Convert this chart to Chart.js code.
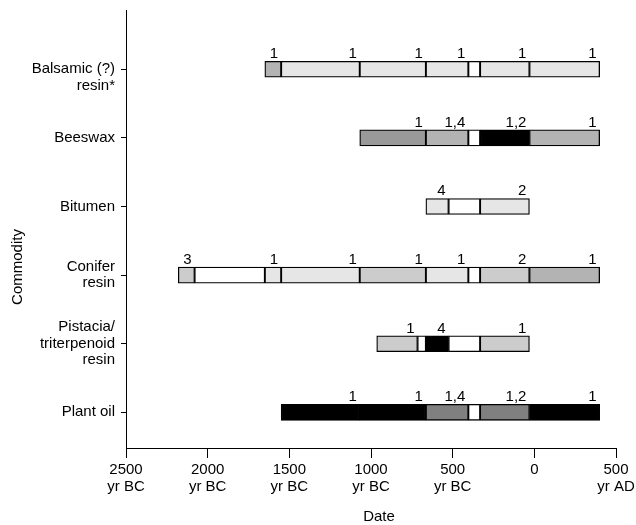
<!DOCTYPE html>
<html><head><meta charset="utf-8">
<script src="https://cdn.jsdelivr.net/npm/chart.js@4"></script>
<style>html,body{margin:0;padding:0;background:#fff;} #wrap{width:636px;height:525px;}</style>
</head><body><div id="wrap"><canvas id="c" width="636" height="525"></canvas></div>
<script>
// ---- data ----
const categoryLabels = [["", "Balsamic (?)", "resin*"], ["Beeswax"], ["Bitumen"], ["Conifer", "resin"], ["Pistacia/", "triterpenoid", "resin"], ["Plant oil"]];
const xTickValues = [-2500, -2000, -1500, -1000, -500, 0, 500];
const xTickLabels = [["2500", "yr BC"], ["2000", "yr BC"], ["1500", "yr BC"], ["1000", "yr BC"], ["500", "yr BC"], ["0"], ["500", "yr AD"]];
const xTitle = "Date";
const yTitle = "Commodity";

// shade levels: 0 none (white) ... 6 black
const balsamicBounds = [-1650, -1550, -1069, -664, -404, -332, -30, 400];
const balsamicShades = [3, 1, 1, 1, 0, 1, 1];
const balsamicNotes = ["1", "1", "1", "1", "", "1", "1"];

const beeswaxBounds = [-1069, -664, -404, -332, -30, 400];
const beeswaxShades = [4, 3, 0, 6, 3];
const beeswaxNotes = ["1", "1,4", "", "1,2", "1"];

const bitumenBounds = [-664, -525, -332, -30];
const bitumenShades = [1, 0, 1];
const bitumenNotes = ["4", "", "2"];

const coniferBounds = [-2180, -2080, -1650, -1550, -1069, -664, -404, -332, -30, 400];
const coniferShades = [2, 0, 1, 1, 2, 1, 0, 2, 3];
const coniferNotes = ["3", "", "1", "1", "1", "1", "", "2", "1"];

const pistaciaBounds = [-965, -715, -664, -525, -332, -30];
const pistaciaShades = [2, 0, 6, 0, 2];
const pistaciaNotes = ["1", "", "4", "", "1"];

const plantOilBounds = [-1550, -1069, -664, -404, -332, -30, 400];
const plantOilShades = [6, 6, 5, 0, 5, 6];
const plantOilNotes = ["1", "1", "1,4", "", "1,2", "1"];

// ---- build ----
const FONT = "'Liberation Sans', Arial, sans-serif";
const palette = ["#ffffff", "#e6e6e6", "#cccccc", "#b3b3b3", "#999999", "#808080", "#000000"];
const rows = [
  [balsamicBounds, balsamicShades, balsamicNotes],
  [beeswaxBounds, beeswaxShades, beeswaxNotes],
  [bitumenBounds, bitumenShades, bitumenNotes],
  [coniferBounds, coniferShades, coniferNotes],
  [pistaciaBounds, pistaciaShades, pistaciaNotes],
  [plantOilBounds, plantOilShades, plantOilNotes]
];
const maxSegs = Math.max(...rows.map(r => r[1].length));
const datasets = [];
for (let k = 0; k < maxSegs; k++) {
  const data = [];
  rows.forEach((r, i) => {
    if (k < r[1].length) data.push({ x: [r[0][k], r[0][k + 1]], y: i, shade: r[1][k], note: r[2][k] });
  });
  datasets.push({
    data,
    backgroundColor: ctx => ctx.raw ? palette[ctx.raw.shade] : '#fff',
    borderColor: '#000',
    borderWidth: 1.3,
    borderSkipped: false,
    barThickness: 16,
    grouped: false
  });
}

const notePlugin = {
  id: 'notes',
  afterDatasetsDraw(chart) {
    const c = chart.ctx, xs = chart.scales.x;
    c.save();
    c.font = "15px " + FONT;
    c.fillStyle = '#000';
    c.textAlign = 'right';
    c.textBaseline = 'alphabetic';
    chart.data.datasets.forEach((ds, di) => {
      const meta = chart.getDatasetMeta(di);
      meta.data.forEach((el, j) => {
        const raw = ds.data[j];
        if (!raw.note) return;
        c.fillText(raw.note, xs.getPixelForValue(raw.x[1]) - 3, el.y - 8 - 3);
      });
    });
    // axis titles
    c.textAlign = 'center';
    c.textBaseline = 'middle';
    c.fillText(xTitle, 379, 517);
    c.translate(18, 267);
    c.rotate(-Math.PI / 2);
    c.fillText(yTitle, 0, 0);
    c.restore();
  }
};

Chart.defaults.font.family = FONT;
Chart.defaults.font.size = 15;
Chart.defaults.color = '#000';

new Chart(document.getElementById('c'), {
  type: 'bar',
  data: { datasets },
  plugins: [notePlugin],
  options: {
    indexAxis: 'y',
    animation: false,
    responsive: false,
    layout: { padding: { top: 10, right: 20, left: 0, bottom: 0 } },
    plugins: { legend: { display: false }, tooltip: { enabled: false } },
    scales: {
      x: {
        type: 'linear', position: 'bottom', min: -2500, max: 500,
        afterBuildTicks: s => { s.ticks = xTickValues.map(v => ({ value: v })); },
        afterFit: s => { s.height = 77; s.paddingLeft = 0; s.paddingRight = 0; },
        ticks: { callback: (v, i) => xTickLabels[i], padding: 4, maxRotation: 0, autoSkip: false, color: '#000', font: { size: 15, lineHeight: 1.1 } },
        grid: { drawOnChartArea: false, drawTicks: true, tickLength: 10, color: '#000', lineWidth: 1 },
        border: { display: true, color: '#000', width: 1 }
      },
      y: {
        type: 'linear', position: 'left', reverse: true, min: -0.864, max: 5.52, offset: false,
        afterBuildTicks: s => { s.ticks = categoryLabels.map((c, i) => ({ value: i })); },
        afterFit: s => { s.width = 126; s.paddingTop = 0; s.paddingBottom = 0; },
        ticks: { callback: (v, i) => categoryLabels[i], padding: 6, autoSkip: false, color: '#000', font: { size: 15, lineHeight: 1.1 } },
        grid: { offset: false, drawOnChartArea: false, drawTicks: true, tickLength: 5, color: '#000', lineWidth: 1 },
        border: { display: true, color: '#000', width: 1 }
      }
    }
  }
});
</script>
</body></html>
